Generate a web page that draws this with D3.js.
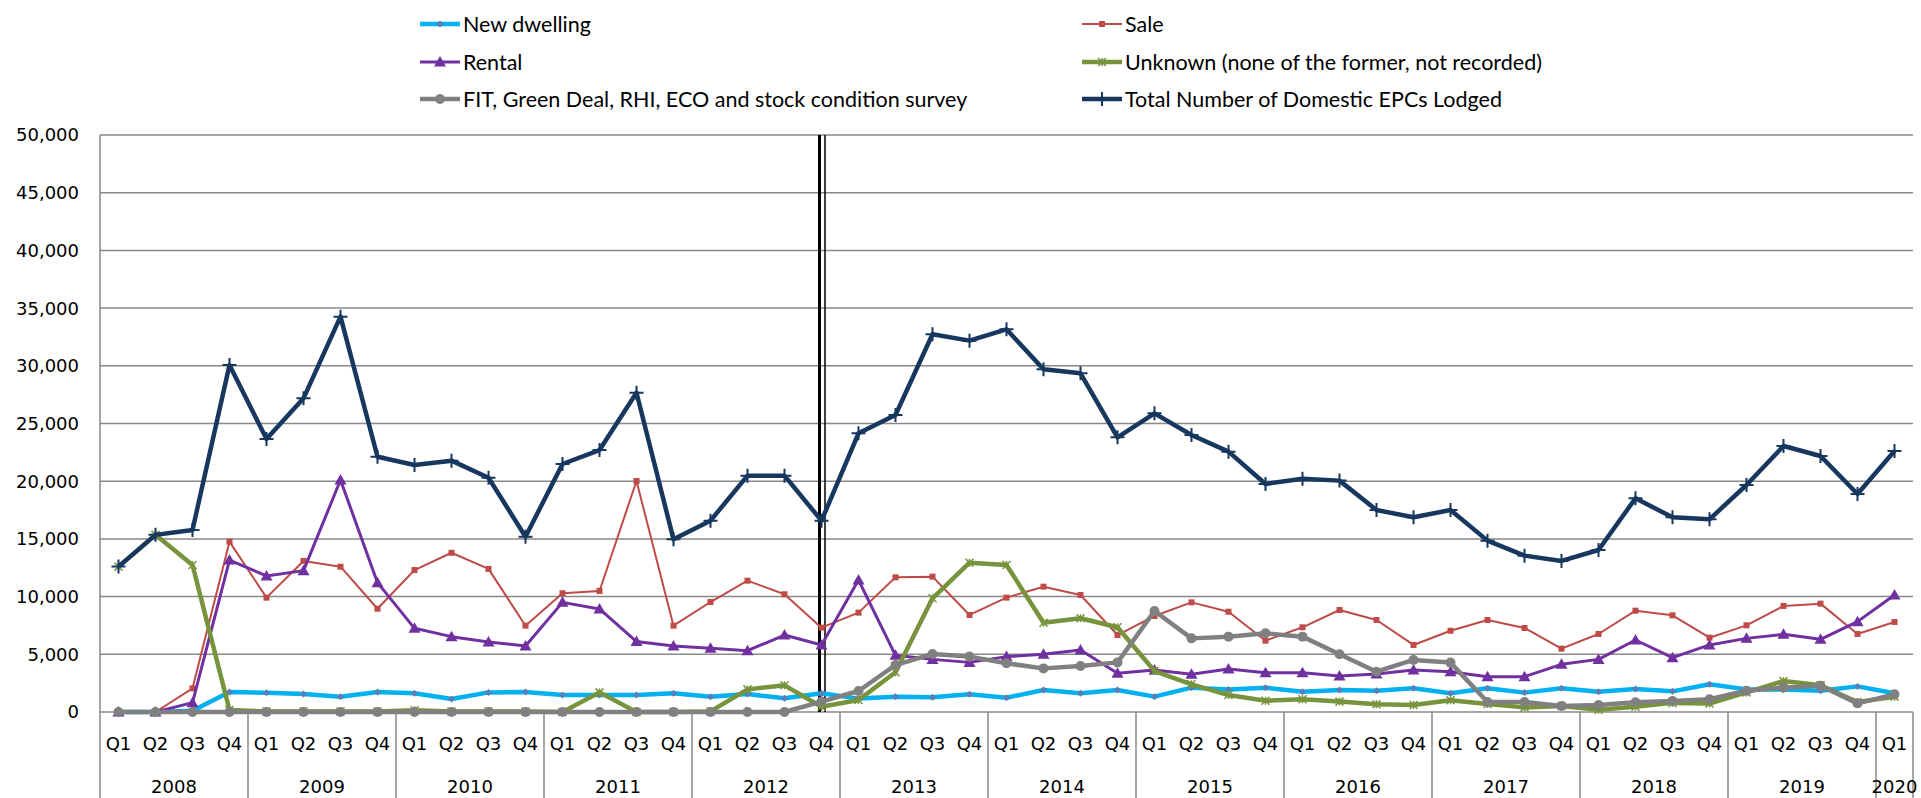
<!DOCTYPE html>
<html><head><meta charset="utf-8">
<script src="https://cdn.jsdelivr.net/npm/d3@7"></script>
<style>html,body{margin:0;padding:0;background:#fff;overflow:hidden}</style>
</head><body>
<svg id="chart" width="1921" height="798"></svg>
<script>
const years = ["2008","2009","2010","2011","2012","2013","2014","2015","2016","2017","2018","2019","2020"];
const quarterNames = ["Q1","Q2","Q3","Q4"];
const yTicks = [0,5000,10000,15000,20000,25000,30000,35000,40000,45000,50000];

const newDwelling = [0,0,100,1730,1670,1560,1330,1730,1620,1130,1700,1730,1470,1470,1470,1620,1330,1560,1190,1620,1160,1330,1270,1530,1240,1910,1620,1910,1330,2110,1960,2110,1760,1910,1850,2050,1620,2050,1680,2050,1760,2000,1790,2400,1960,1960,1850,2220,1620];
const sale = [0,0,2050,14760,9910,13090,12590,8950,12300,13800,12400,7480,10290,10490,20020,7480,9530,11380,10200,7310,8610,11670,11730,8410,9910,10860,10140,6670,8320,9500,8690,6180,7340,8840,7970,5810,7040,7970,7280,5490,6760,8780,8380,6440,7510,9190,9390,6760,7800];
const rental = [0,0,810,13170,11790,12250,20100,11210,7250,6530,6070,5720,9500,8930,6100,5720,5520,5310,6670,5810,11440,4910,4560,4300,4800,5000,5370,3350,3640,3270,3730,3410,3410,3120,3290,3640,3490,3060,3060,4130,4560,6240,4710,5810,6380,6730,6300,7830,10140];
const unknown = [12600,15350,12740,170,50,50,50,50,150,50,50,50,0,1700,0,0,50,1960,2310,460,1040,3440,9850,12940,12740,7740,8120,7340,3550,2400,1470,980,1100,900,670,610,1010,700,400,520,200,460,790,730,1700,2690,2310,870,1330];
const fit = [0,0,0,0,0,0,0,0,0,0,0,0,0,0,0,0,0,0,0,900,1820,4070,5030,4800,4220,3780,3990,4300,8750,6380,6530,6820,6530,5000,3490,4510,4280,870,870,520,610,840,960,1100,1850,2110,2280,750,1530];
const total = [12600,15350,15770,30070,23660,27180,34260,22120,21400,21780,20300,15190,21490,22700,27670,14960,16580,20480,20480,16580,24150,25740,32730,32180,33160,29700,29350,23800,25880,24000,22560,19760,20220,20050,17500,16870,17500,14850,13550,13090,14040,18520,16870,16700,19670,23050,22180,18890,22620];
const seriesNames = ["New dwelling","Sale","Rental","Unknown (none of the former, not recorded)","FIT, Green Deal, RHI, ECO and stock condition survey","Total Number of Domestic EPCs Lodged"];
const breakCategory = 19; // 2012 Q4

(function () {
const cats = [];
years.forEach((yr) => {
  const nq = yr === "2020" ? 1 : 4;
  for (let q = 0; q < nq; q++) cats.push({year: yr, q: quarterNames[q]});
});

const svg = d3.select("#chart");
const pLeft = 100, pRight = 1913, pTop = 135, pBottom = 712, H = 798;
const x = d3.scaleBand().domain(d3.range(cats.length)).range([pLeft, pRight]).padding(0);
const cx = i => x(i) + x.bandwidth() / 2;
const y = d3.scaleLinear().domain([0, 50000]).range([pBottom, pTop]);

const gridColor = "#898989";
const axisFont = "DejaVu Sans";

svg.append("g").selectAll("line").data(yTicks).join("line")
  .attr("x1", pLeft).attr("x2", pRight)
  .attr("y1", d => y(d)).attr("y2", d => y(d))
  .attr("stroke", gridColor).attr("stroke-width", 1.5);

svg.append("g").selectAll("text").data(yTicks).join("text")
  .attr("x", pLeft - 21).attr("y", d => y(d)).attr("dy", "0.36em")
  .attr("text-anchor", "end").attr("font-family", axisFont).attr("font-size", 18).attr("fill", "#000")
  .text(d => d3.format(",")(d));

svg.append("line").attr("x1", pLeft).attr("x2", pLeft).attr("y1", pTop).attr("y2", H)
  .attr("stroke", gridColor).attr("stroke-width", 1.5);

const sepIdx = [];
cats.forEach((c, i) => { if (i > 0 && c.q === "Q1") sepIdx.push(i); });
svg.append("g").selectAll("line").data(sepIdx).join("line")
  .attr("x1", d => x(d)).attr("x2", d => x(d)).attr("y1", pBottom).attr("y2", H)
  .attr("stroke", gridColor).attr("stroke-width", 1.5);
svg.append("line").attr("x1", pRight).attr("x2", pRight).attr("y1", pBottom).attr("y2", H)
  .attr("stroke", gridColor).attr("stroke-width", 1.5);

svg.append("g").selectAll("text").data(cats).join("text")
  .attr("x", (d, i) => cx(i)).attr("y", 750)
  .attr("text-anchor", "middle").attr("font-family", axisFont).attr("font-size", 18).attr("fill", "#000")
  .text(d => d.q);

const yearGroups = years.map(yr => {
  const idx = cats.map((c, i) => c.year === yr ? i : -1).filter(i => i >= 0);
  return {year: yr, mid: (x(idx[0]) + x(idx[idx.length - 1]) + x.bandwidth()) / 2};
});
svg.append("g").selectAll("text").data(yearGroups).join("text")
  .attr("x", d => d.mid).attr("y", 793)
  .attr("text-anchor", "middle").attr("font-family", axisFont).attr("font-size", 18).attr("fill", "#000")
  .text(d => d.year);

svg.append("line").attr("x1", cx(breakCategory) - 2).attr("x2", cx(breakCategory) - 2)
  .attr("y1", pTop).attr("y2", pBottom).attr("stroke", "#000").attr("stroke-width", 3);
svg.append("line").attr("x1", cx(breakCategory) + 3.5).attr("x2", cx(breakCategory) + 3.5)
  .attr("y1", pTop).attr("y2", pBottom).attr("stroke", "#000").attr("stroke-width", 1.5);

const series = [
  {name: seriesNames[0], data: newDwelling, color: "#00B0F0", width: 4.5, marker: "diamond", mfill: "#5b7fb5"},
  {name: seriesNames[1], data: sale, color: "#BE4B48", width: 2, marker: "square", mfill: "#BE4B48"},
  {name: seriesNames[2], data: rental, color: "#7030A0", width: 3, marker: "triangle", mfill: "#7030A0"},
  {name: seriesNames[3], data: unknown, color: "#77933C", width: 4.5, marker: "star", mfill: "#77933C"},
  {name: seriesNames[4], data: fit, color: "#808080", width: 4.5, marker: "circle", mfill: "#808080"},
  {name: seriesNames[5], data: total, color: "#17375E", width: 4.5, marker: "plus", mfill: "#17375E"}
];

function drawMarker(g, type, px, py, s) {
  if (type === "diamond") {
    g.append("path").attr("d", `M${px},${py-3.5}L${px+3.5},${py}L${px},${py+3.5}L${px-3.5},${py}Z`).attr("fill", s.mfill);
  } else if (type === "square") {
    g.append("rect").attr("x", px - 3).attr("y", py - 3).attr("width", 6).attr("height", 6).attr("fill", s.mfill);
  } else if (type === "triangle") {
    g.append("path").attr("d", `M${px},${py-6}L${px+6},${py+4.5}L${px-6},${py+4.5}Z`).attr("fill", s.mfill);
  } else if (type === "star") {
    g.append("path").attr("d", `M${px-4},${py-4}L${px+4},${py+4}M${px-4},${py+4}L${px+4},${py-4}M${px},${py-4}L${px},${py+4}`)
      .attr("stroke", s.mfill).attr("stroke-width", 1.5).attr("fill", "none");
  } else if (type === "circle") {
    g.append("circle").attr("cx", px).attr("cy", py).attr("r", 5).attr("fill", s.mfill);
  } else if (type === "plus") {
    g.append("path").attr("d", `M${px-7},${py}L${px+7},${py}M${px},${py-7}L${px},${py+7}`)
      .attr("stroke", s.mfill).attr("stroke-width", 2).attr("fill", "none");
  }
}

const line = d3.line().x((d, i) => cx(i)).y(d => y(d));
series.forEach(s => {
  const g = svg.append("g");
  g.append("path").datum(s.data).attr("d", line).attr("fill", "none")
    .attr("stroke", s.color).attr("stroke-width", s.width).attr("stroke-linejoin", "round");
  s.data.forEach((v, i) => drawMarker(g, s.marker, cx(i), y(v), s));
});

const legFont = "Lato";
const legPos = [
  {col: 420, row: 24}, {col: 1082, row: 24},
  {col: 420, row: 62}, {col: 1082, row: 62},
  {col: 420, row: 99}, {col: 1082, row: 99}
];
series.forEach((s, k) => {
  const p = legPos[k];
  const g = svg.append("g");
  g.append("line").attr("x1", p.col).attr("x2", p.col + 40).attr("y1", p.row).attr("y2", p.row)
    .attr("stroke", s.color).attr("stroke-width", s.width);
  drawMarker(g, s.marker, p.col + 20, p.row, s);
  g.append("text").attr("x", p.col + 43).attr("y", p.row).attr("dy", "0.35em")
    .attr("font-family", legFont).attr("font-size", 21.5).attr("fill", "#000").text(s.name);
});
})();
</script>
</body></html>
